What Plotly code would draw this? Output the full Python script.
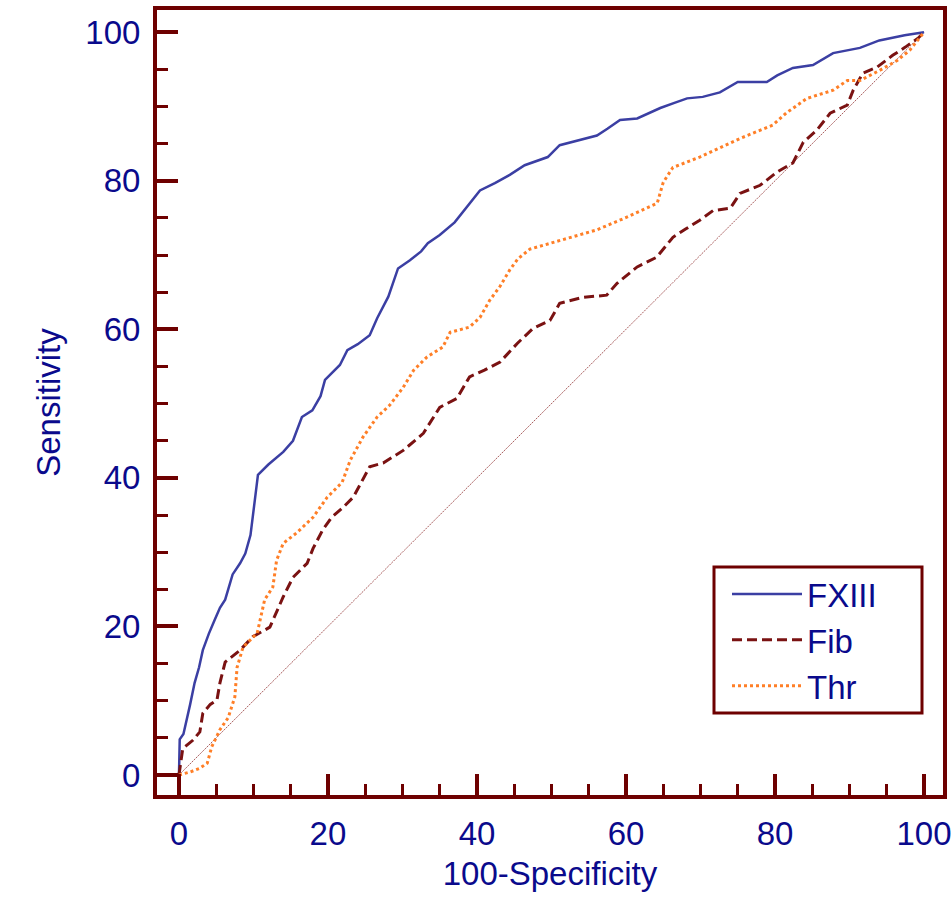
import plotly.graph_objects as go

# ---- data ----
fxiii_x = [0, 0.1, 0.6, 1.1, 1.5, 2.1, 2.7, 3.2, 4.0, 4.8, 5.5, 6.2, 7.2, 8.2, 8.9, 9.6, 10.1, 10.6,
           12.0, 14.0, 15.3, 16.5, 17.9, 19.0, 19.6, 21.6, 22.6, 24.0, 25.6, 26.6, 28.1, 29.4, 31.0,
           32.5, 33.4, 35.0, 37.0, 38.8, 40.4, 42.4, 44.4, 46.4, 48.0, 49.5, 51.1, 53.5, 56.1, 57.5,
           59.2, 61.5, 64.6, 66.5, 68.2, 70.3, 72.6, 75.0, 78.9, 80.3, 82.4, 85.1, 87.8, 91.4, 94.0,
           97.4, 100]
fxiii_y = [0, 4.8, 5.5, 7.5, 9.5, 12.4, 14.5, 16.8, 19.0, 20.9, 22.5, 23.6, 27.0, 28.5, 29.8, 32.3,
           36.5, 40.4, 41.8, 43.5, 45.0, 48.2, 49.1, 51.0, 53.2, 55.2, 57.2, 58.0, 59.2, 61.5, 64.4,
           68.2, 69.3, 70.5, 71.6, 72.7, 74.4, 76.7, 78.7, 79.7, 80.8, 82.1, 82.7, 83.2, 84.8, 85.4,
           86.1, 87.0, 88.2, 88.4, 89.8, 90.5, 91.1, 91.3, 91.9, 93.3, 93.3, 94.2, 95.2, 95.6, 97.2,
           97.9, 98.9, 99.6, 100]

fib_x = [0, 0.5, 0.8, 1.9, 2.8, 3.2, 4.2, 5.1, 5.5, 6.2, 8.2, 9.9, 12.2, 13.6, 14.0, 15.3, 17.2,
         18.0, 19.3, 20.5, 22.0, 23.4, 24.5, 25.6, 27.4, 30.1, 32.8, 35.0, 37.3, 39.0, 41.0, 43.1,
         45.4, 47.5, 49.8, 51.1, 54.2, 57.4, 58.8, 61.5, 64.1, 66.3, 68.0, 69.9, 71.7, 74.0, 75.3,
         78.0, 80.3, 82.4, 83.8, 85.6, 87.4, 89.7, 90.5, 91.8, 93.7, 95.8, 97.5, 99.2, 100]
fib_y = [0, 3.5, 3.8, 4.7, 5.8, 8.3, 9.5, 10.1, 12.4, 15.2, 16.8, 18.6, 19.9, 23.1, 24.0, 26.6,
         28.5, 30.5, 33.0, 34.7, 36.0, 37.4, 39.5, 41.5, 42.0, 43.7, 46.0, 49.5, 50.7, 53.6, 54.5,
         55.6, 58.1, 60.1, 61.2, 63.5, 64.3, 64.6, 66.2, 68.4, 69.7, 72.4, 73.5, 74.7, 76.0, 76.3,
         78.3, 79.4, 81.2, 82.4, 85.2, 86.8, 89.1, 90.2, 92.2, 94.5, 95.3, 96.9, 98.0, 99.2, 100]

thr_x = [0, 1.5, 2.8, 3.8, 4.4, 5.5, 6.6, 7.5, 7.8, 8.6, 10.5, 11.1, 11.5, 12.6, 13.1, 14.0, 15.8,
         18.0, 19.9, 21.9, 23.0, 24.7, 26.6, 28.3, 30.1, 31.5, 33.3, 35.4, 36.4, 39.0, 40.4, 41.7,
         43.1, 44.4, 45.5, 47.1, 51.1, 56.1, 60.1, 64.2, 65.0, 66.3, 69.9, 75.3, 79.7, 81.6, 84.3,
         87.8, 89.7, 91.4, 94.1, 96.4, 98.1, 100]
thr_y = [0, 0.4, 0.9, 1.6, 3.8, 6.1, 7.7, 10.5, 14.5, 17.2, 19.1, 21.8, 23.6, 25.3, 28.9, 31.2,
         32.6, 34.7, 37.4, 39.4, 42.4, 45.5, 48.2, 49.8, 52.2, 54.5, 56.3, 57.6, 59.6, 60.3, 61.6,
         63.9, 65.8, 68.0, 69.5, 70.8, 72.0, 73.4, 75.1, 77.0, 79.8, 81.8, 83.2, 85.7, 87.5, 89.2,
         91.1, 92.2, 93.5, 93.5, 94.9, 96.2, 97.6, 100]

ref_x = [0, 100]
ref_y = [0, 100]

# ---- styles ----
FRAME = "#6e0000"
TEXT = "#0a0a8c"
FONT = "Liberation Sans, Arial, sans-serif"
X_RANGE = [-2.95, 102.55]
Y_RANGE = [-2.7, 103.0]

fig = go.Figure()
fig.add_trace(go.Scatter(x=ref_x, y=ref_y, mode="lines", showlegend=False, hoverinfo="skip",
                         line=dict(color="rgba(140,40,40,0.75)", width=1, dash="2px,1px")))
fig.add_trace(go.Scatter(x=fxiii_x, y=fxiii_y, mode="lines", name="FXIII",
                         line=dict(color="#3b3fa3", width=2.5)))
fig.add_trace(go.Scatter(x=fib_x, y=fib_y, mode="lines", name="Fib",
                         line=dict(color="#7a1212", width=3, dash="10px,5px")))
fig.add_trace(go.Scatter(x=thr_x, y=thr_y, mode="lines", name="Thr",
                         line=dict(color="#ff7f27", width=3, dash="dot")))

axis_common = dict(
    showgrid=False, zeroline=False,
    showline=True, linecolor=FRAME, linewidth=4, mirror=True,
    tickmode="linear", tick0=0, dtick=20,
    ticks="inside", ticklen=21, tickwidth=4, tickcolor=FRAME,
    minor=dict(dtick=5, ticks="inside", ticklen=11, tickwidth=3, tickcolor=FRAME),
    tickfont=dict(family=FONT, size=33, color=TEXT),
    title_font=dict(family=FONT, size=33, color=TEXT),
    ticklabelstandoff=6,
)

fig.update_layout(
    xaxis=dict(range=X_RANGE, title_text="100-Specificity", title_standoff=12, **axis_common),
    yaxis=dict(range=Y_RANGE, title_text="Sensitivity", title_standoff=16, **axis_common),
)

# legend frame (plot-area pixel box 714..922 x 567..713)
px_w, px_h = 943 - 157, 795 - 10
fig.add_shape(type="rect", xref="paper", yref="paper",
              x0=(714 - 157) / px_w, x1=(922 - 157) / px_w,
              y0=1 - (713 - 10) / px_h, y1=1 - (567 - 10) / px_h,
              line=dict(color=FRAME, width=3), fillcolor="white", layer="below")

fig.update_layout(
    width=952, height=897,
    margin=dict(l=157, r=9, t=10, b=102, autoexpand=False),
    paper_bgcolor="white", plot_bgcolor="white",
    font=dict(family=FONT, color=TEXT),
    legend=dict(x=(727 - 157) / px_w, y=1 - (566 - 10) / px_h, xanchor="left", yanchor="top",
                bgcolor="rgba(0,0,0,0)", borderwidth=0,
                font=dict(family=FONT, size=33, color=TEXT),
                itemwidth=70, tracegroupgap=0),
)

fig.write_html("out.html")
